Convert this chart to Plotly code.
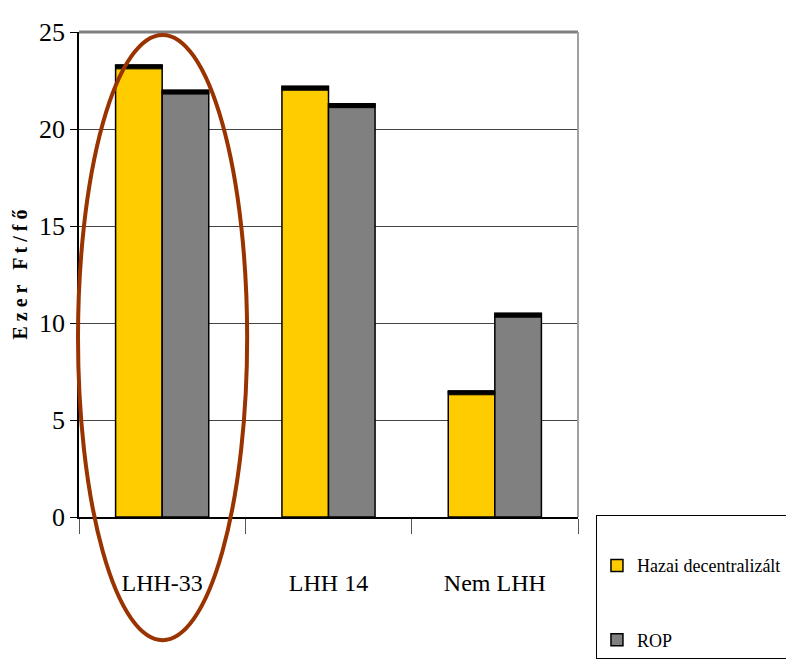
import plotly.graph_objects as go

categories = ["LHH-33", "LHH 14", "Nem LHH"]
hazai = [23.3, 22.2, 6.5]
rop = [22.0, 21.3, 10.5]
series_names = ["Hazai decentralizált", "ROP"]
colors = ["#FFCC00", "#808080"]
y_ticks = [0, 5, 10, 15, 20, 25]

FONT = "Liberation Serif, Times New Roman, serif"
cap = 0.2

fig = go.Figure()
for i, (name, vals, col) in enumerate(zip(series_names, [hazai, rop], colors)):
    fig.add_trace(go.Bar(
        x=categories, y=vals, name=name, offsetgroup=str(i), legendgroup=name,
        marker=dict(color=col, line=dict(color="black", width=1.5)),
    ))
for i, vals in enumerate([hazai, rop]):
    fig.add_trace(go.Bar(
        x=categories, y=[cap] * len(vals), base=[v - cap for v in vals],
        offsetgroup=str(i), showlegend=False, hoverinfo="skip",
        marker=dict(color="black", line=dict(color="black", width=1)),
    ))

fig.update_layout(
    width=794, height=664,
    margin=dict(l=71, r=224, t=24, b=155, autoexpand=False),
    paper_bgcolor="white", plot_bgcolor="white",
    barmode="group", bargap=0.44, bargroupgap=0,
    font=dict(family=FONT, color="black", size=22),
    legend=dict(
        x=1.036, y=0.004, xanchor="left", yanchor="top",
        bordercolor="black", borderwidth=1, bgcolor="white",
        font=dict(family=FONT, size=18), tracegroupgap=48,
        title=dict(text=" ", font=dict(size=24)),
        itemwidth=30,
    ),
    showlegend=True,
)
fig.update_yaxes(
    range=[0, 25], tickvals=y_ticks, showgrid=True, gridcolor="#444444", gridwidth=1,
    showline=True, linecolor="black", linewidth=1.5, ticks="outside", ticklen=7,
    tickcolor="black", tickfont=dict(size=26, family=FONT), zeroline=False,
    title=dict(text="<b>E z e r   F t / f ő</b>", font=dict(size=20, family=FONT), standoff=6),
)
fig.update_xaxes(
    showline=True, linecolor="black", linewidth=1.5, ticks="outside", ticklen=15,
    tickson="boundaries", tickcolor="#555555", tickfont=dict(size=24, family=FONT),
    ticklabelstandoff=43,
)
# top and right plot borders
fig.add_shape(type="line", xref="paper", yref="paper", x0=0, x1=1, y0=1, y1=1,
              line=dict(color="#808080", width=3))
fig.add_shape(type="line", xref="paper", yref="paper", x0=1, x1=1, y0=0, y1=1,
              line=dict(color="#A0A0A0", width=2))
# highlight ellipse
fig.add_shape(type="circle", xref="paper", yref="paper",
              x0=-0.002, x1=0.337, y0=-0.254, y1=0.994,
              line=dict(color="#993300", width=4))

fig.write_html("out.html")
